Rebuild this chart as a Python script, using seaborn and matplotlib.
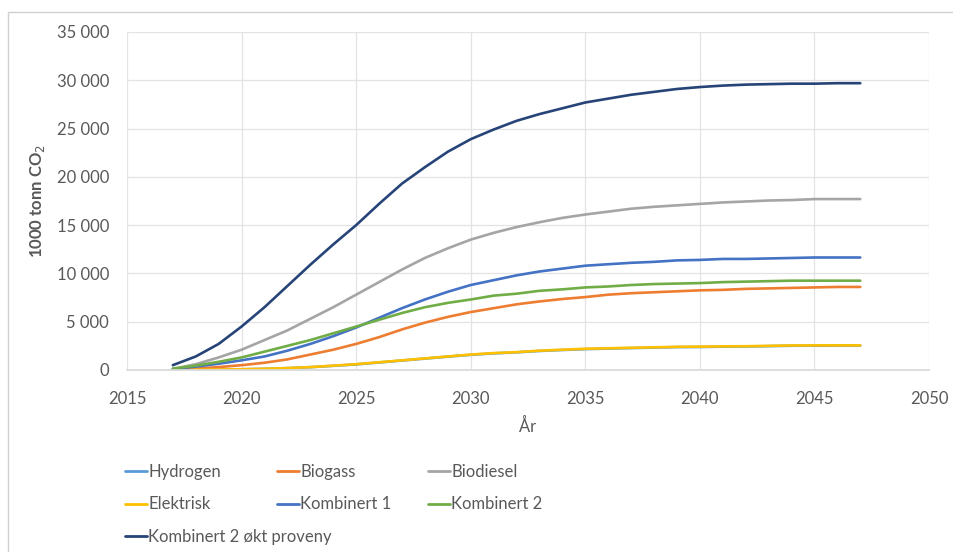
import matplotlib
matplotlib.use("Agg")
import matplotlib.pyplot as plt
from matplotlib.lines import Line2D
from matplotlib.patches import Rectangle
from matplotlib.ticker import FuncFormatter
import pandas as pd
import seaborn as sns

years = list(range(2017, 2048))

hydrogen = [0, 15, 40, 70, 120, 190, 290, 430, 580, 780, 980, 1180, 1380, 1570, 1720,
            1830, 1970, 2070, 2160, 2220, 2270, 2320, 2370, 2380, 2420, 2430, 2470, 2510,
            2520, 2530, 2530]
biogass = [50, 150, 300, 500, 750, 1100, 1600, 2100, 2700, 3400, 4200, 4900, 5500, 6000,
           6400, 6800, 7100, 7350, 7550, 7800, 7950, 8050, 8150, 8250, 8300, 8400, 8450,
           8500, 8550, 8600, 8600]
biodiesel = [100, 600, 1300, 2100, 3100, 4100, 5300, 6500, 7800, 9100, 10400, 11600, 12600,
             13500, 14200, 14800, 15300, 15750, 16100, 16400, 16700, 16900, 17050, 17200,
             17350, 17450, 17550, 17600, 17700, 17700, 17700]
elektrisk = [0, 20, 50, 80, 130, 200, 300, 450, 600, 800, 1000, 1200, 1400, 1600, 1750,
             1850, 2000, 2100, 2200, 2250, 2300, 2350, 2400, 2420, 2450, 2460, 2500, 2540,
             2550, 2550, 2550]
kombinert1 = [100, 350, 650, 1000, 1400, 2000, 2700, 3500, 4400, 5400, 6400, 7300, 8100,
              8800, 9300, 9800, 10200, 10500, 10800, 10950, 11100, 11200, 11350, 11400,
              11500, 11500, 11550, 11600, 11650, 11650, 11650]
kombinert2 = [150, 450, 850, 1300, 1900, 2500, 3100, 3800, 4500, 5200, 5900, 6500, 6950,
              7300, 7700, 7900, 8200, 8350, 8550, 8650, 8800, 8900, 8950, 9000, 9100, 9150,
              9200, 9250, 9250, 9250, 9250]
kombinert2_okt = [500, 1400, 2700, 4500, 6500, 8700, 10900, 13000, 15000, 17200, 19300,
                  21000, 22600, 23900, 24900, 25800, 26500, 27100, 27700, 28100, 28500,
                  28800, 29100, 29300, 29450, 29550, 29600, 29650, 29650, 29700, 29700]

series_names = ["Hydrogen", "Biogass", "Biodiesel", "Elektrisk", "Kombinert 1",
                "Kombinert 2", "Kombinert 2 økt proveny"]
series_values = [hydrogen, biogass, biodiesel, elektrisk, kombinert1, kombinert2,
                 kombinert2_okt]
colors = ["#5B9BD5", "#ED7D31", "#A5A5A5", "#FFC000", "#4472C4", "#70AD47", "#264478"]

x_ticks = [2015, 2020, 2025, 2030, 2035, 2040, 2045, 2050]
y_ticks = [0, 5000, 10000, 15000, 20000, 25000, 30000, 35000]

df = pd.DataFrame(
    [(y, name, v) for name, vals in zip(series_names, series_values)
     for y, v in zip(years, vals)],
    columns=["year", "series", "value"],
)

sns.set_theme(style="white")
plt.rcParams["font.family"] = ["Lato", "DejaVu Sans"]
text_color = "#595959"

fig = plt.figure(figsize=(9.54, 5.52), dpi=100)
W, H = 954, 552
ax = fig.add_axes([127 / W, 1 - 370 / H, (929 - 127) / W, (370 - 32) / H])

# outer chart frame
fig.patches.append(Rectangle((8 / W, -0.01), 1.0, 1 - 12 / H + 0.01,
                             transform=fig.transFigure, fill=False,
                             edgecolor="#D0D0D0", linewidth=1.0))

sns.lineplot(data=df, x="year", y="value", hue="series", hue_order=series_names,
             palette=colors, linewidth=1.9, ax=ax, legend=False)

ax.set_xlim(2015, 2050)
ax.set_ylim(0, 35000)
ax.set_xticks(x_ticks)
ax.set_yticks(y_ticks)
ax.yaxis.set_major_formatter(FuncFormatter(lambda v, p: f"{int(v):,}".replace(",", " ")))
ax.grid(True, color="#E3E3E3", linewidth=0.9)
ax.set_axisbelow(True)
for side in ["top", "right", "left"]:
    ax.spines[side].set_visible(False)
ax.spines["bottom"].set_color("#D9D9D9")
ax.tick_params(axis="y", colors=text_color, labelsize=12, length=0, pad=13)
ax.tick_params(axis="x", colors=text_color, labelsize=12, length=0, pad=15)

ax.set_xlabel("År", color=text_color, fontsize=12, labelpad=8)
ax.set_ylabel("1000 tonn CO$_2$", color=text_color, fontsize=12, fontweight="bold",
              labelpad=7)

# legend: three columns laid out row by row
col_x = [110, 262, 413]
for c in range(3):
    idx = list(range(c, len(series_names), 3))
    handles = [Line2D([0], [0], color=colors[i], linewidth=2) for i in idx]
    labels = [series_names[i] for i in idx]
    leg = fig.legend(handles, labels, loc="upper left",
                     bbox_to_anchor=(col_x[c] / W, 1 - 449 / H), frameon=False,
                     fontsize=12, handlelength=1.3, handletextpad=0.1,
                     labelspacing=0.98)
    for t in leg.get_texts():
        t.set_color(text_color)

fig.savefig("out.png", dpi=100, facecolor="white")
